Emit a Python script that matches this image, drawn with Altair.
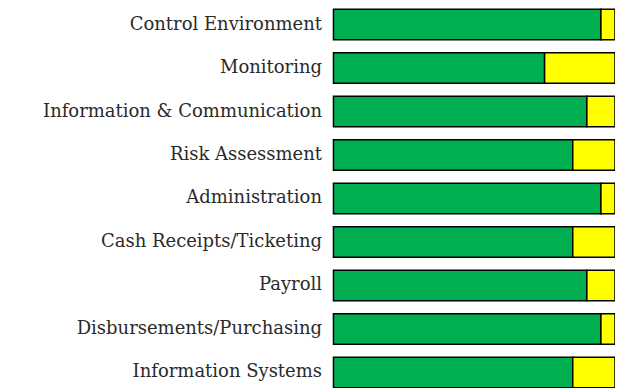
import altair as alt
import pandas as pd

categories = [
    "Control Environment",
    "Monitoring",
    "Information & Communication",
    "Risk Assessment",
    "Administration",
    "Cash Receipts/Ticketing",
    "Payroll",
    "Disbursements/Purchasing",
    "Information Systems",
]
green_values = [95, 75, 90, 85, 95, 85, 90, 95, 85]
yellow_values = [5, 25, 10, 15, 5, 15, 10, 5, 15]
series = ["Green", "Yellow"]
colors = ["#00B050", "#FFFF00"]

rows = []
for c, g, y in zip(categories, green_values, yellow_values):
    rows.append({"category": c, "series": "Green", "order": 0, "value": g})
    rows.append({"category": c, "series": "Yellow", "order": 1, "value": y})
df = pd.DataFrame(rows)

chart = (
    alt.Chart(df)
    .mark_bar(stroke="black", strokeWidth=1.5)
    .encode(
        y=alt.Y(
            "category:N",
            sort=categories,
            scale=alt.Scale(paddingInner=0.3, paddingOuter=0.0),
            axis=alt.Axis(
                title=None,
                domain=False,
                ticks=False,
                labelFont="DejaVu Serif",
                labelFontSize=18,
                labelColor="#2a2a2a",
                labelPadding=12,
                labelLimit=400,
            ),
        ),
        x=alt.X(
            "value:Q",
            stack="zero",
            scale=alt.Scale(domain=[0, 100], nice=False),
            axis=None,
        ),
        color=alt.Color(
            "series:N",
            scale=alt.Scale(domain=series, range=colors),
            legend=None,
        ),
        order=alt.Order("order:Q"),
    )
    .properties(
        width=282,
        height=379,
        autosize=alt.AutoSizeParams(type="none"),
        padding={"left": 326, "top": 1, "right": 0, "bottom": 0},
    )
    .configure_view(stroke=None)
)

chart.save("out.html", embed_options={"renderer": "svg", "actions": False})
